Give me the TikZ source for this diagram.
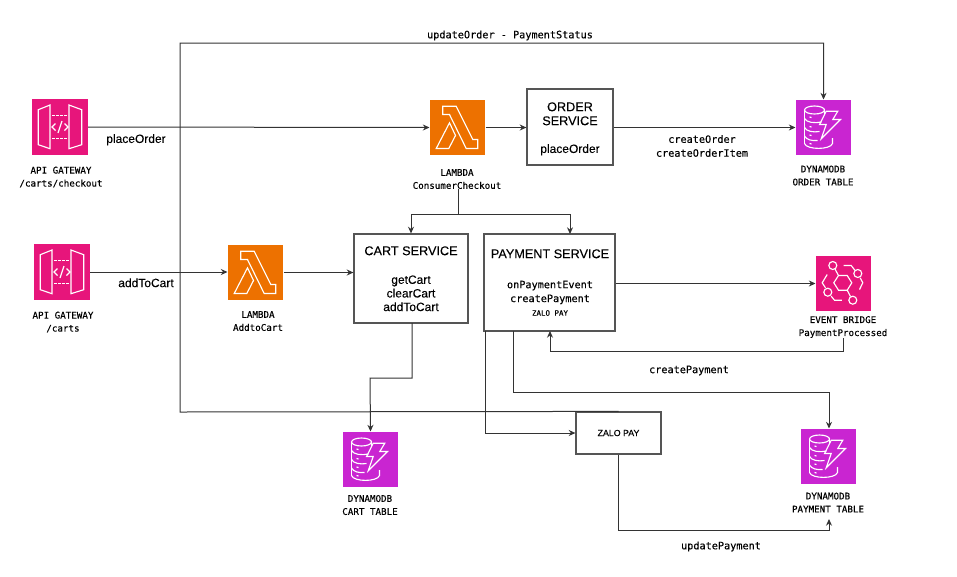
\documentclass[tikz,border=0pt]{standalone}
\usepackage{fontspec}
\setmainfont[FakeBold=0.15]{Liberation Sans}
\newfontfamily\monof[FakeBold=0.25]{DejaVu Sans Mono}
\usetikzlibrary{arrows.meta,calc}
\definecolor{awspink}{HTML}{E7157B}
\definecolor{awsorange}{HTML}{ED7100}
\definecolor{awspurple}{HTML}{C925D1}
\definecolor{linec}{HTML}{333333}
\definecolor{boxc}{HTML}{555555}
\tikzset{
  icon/.style={draw=none,minimum size=41.6pt,inner sep=0pt,fill=#1},
  glyph/.style={draw=white,line width=0.85pt,line join=miter},
  conn/.style={draw=linec,line width=0.75pt,-{Stealth[length=5pt,width=4.5pt]}},
  plainconn/.style={draw=linec,line width=0.75pt},
  svcbox/.style={draw=boxc,line width=0.9pt,fill=white,inner sep=0pt},
  mlabel/.style={font=\monof\fontsize{6.9pt}{9.75pt}\selectfont,align=center,inner sep=0pt,text=black,yshift=-0.4pt},
  mtext/.style={font=\monof\fontsize{7.65pt}{10.4pt}\selectfont,align=center,inner sep=0pt,text=black,yshift=-1.1pt},
  stext/.style={font=\fontsize{9pt}{10.2pt}\selectfont,align=center,inner sep=0pt,text=black,yshift=-0.6pt},
  htext/.style={font=\fontsize{9.5pt}{10.5pt}\selectfont,align=center,inner sep=0pt,text=black,yshift=-0.6pt},
}
\newcommand{\glyphApi}{%
  \draw[glyph] (6.3,10.7)--(18,6)--(18,49.7)--(6.3,45.7)--cycle;
  \draw[glyph] (37,6)--(49.7,10.7)--(49.7,45.7)--(37,49.7)--cycle;
  \draw[glyph,dash pattern=on 2pt off 1pt] (20,16.7)--(36,16.7);
  \draw[glyph,dash pattern=on 2pt off 1pt] (20,39.3)--(36,39.3);
  \draw[glyph] (23.5,24.5)--(20,28)--(23.5,31.5);
  \draw[glyph] (32.5,24.5)--(36,28)--(32.5,31.5);
  \draw[glyph] (30,22)--(26,34);
}
\newcommand{\glyphLambda}{%
  \draw[glyph] (13.3,6.7)--(26.7,6.7)--(43.3,40)--(48.3,40)--(48.3,49)--(36.7,49)--(20,15)--(13.3,15)--cycle;
  \draw[glyph] (20,23.3)--(26,36)--(19.3,49)--(6.7,49)--cycle;
}
\newcommand{\glyphDynamo}{%
  \draw[glyph] (19,10.5) ellipse [x radius=10,y radius=4];
  \draw[glyph] (9,10.5)--(9,44);
  \draw[glyph] (29,10.5)--(29,14);
  \draw[glyph] (9,19) .. controls (11,23) and (19,24) .. (26,22.5);
  \draw[glyph] (9,28) .. controls (11,32) and (18,33) .. (24,32);
  \draw[glyph] (9,36.5) .. controls (11,40.5) and (17,41.5) .. (22,41);
  \draw[glyph] (9,44) .. controls (11,50.5) and (35,50.5) .. (37,44)--(37,38.5);
  \draw[glyph] (14,17.5)--(16,18);
  \draw[glyph] (14,27)--(16,27.5);
  \draw[glyph] (14,35.5)--(16,36);
  \draw[glyph] (14,44)--(16,44.5);
  \draw[glyph] (30.7,11.7)--(42.3,11.7)--(37.3,20)--(45,20)--(25.7,39.3)--(30.7,25)--(24,25)--cycle;
}
\newcommand{\glyphBridge}{%
  \draw[glyph] (18.3,27.3)--(23,20)--(31.7,20)--(36.3,27.3)--(31.7,34.7)--(23,34.7)--cycle;
  \draw[glyph] (17.3,10) circle [radius=4];
  \draw[glyph] (42.3,18) circle [radius=4];
  \draw[glyph] (12.3,36.7) circle [radius=4];
  \draw[glyph] (37.3,44.7) circle [radius=4];
  \draw[glyph] (19.5,13.5)--(23,20);
  \draw[glyph] (31.7,34.7)--(35,41);
  \draw[glyph] (28,10)--(35.7,10)--(39.3,14.7);
  \draw[glyph] (44.7,22.3)--(47.3,27.3)--(44,34);
  \draw[glyph] (11.7,19)--(6.7,27.3)--(10,32.3);
  \draw[glyph] (15.7,40.7)--(19,44.7)--(26.3,44.7);
}
\begin{document}
\begin{tikzpicture}[x=0.75pt,y=-0.75pt]
\useasboundingbox (0,0) rectangle (957,576);
% icons
\node[icon=awspink] (api1) at (60,127) {};
\begin{scope}[shift={(api1.north west)}]\glyphApi\end{scope}
\node[icon=awspink] (api2) at (62,272) {};
\begin{scope}[shift={(api2.north west)}]\glyphApi\end{scope}
\node[icon=awsorange] (lam2) at (255.5,272.5) {};
\begin{scope}[shift={(lam2.north west)}]\glyphLambda\end{scope}
\node[icon=awsorange] (lam1) at (457.5,127.5) {};
\begin{scope}[shift={(lam1.north west)}]\glyphLambda\end{scope}
\node[icon=awspurple] (dynO) at (823.5,127.5) {};
\begin{scope}[shift={(dynO.north west)}]\glyphDynamo\end{scope}
\node[icon=awspurple] (dynC) at (370.5,459.5) {};
\begin{scope}[shift={(dynC.north west)}]\glyphDynamo\end{scope}
\node[icon=awspurple] (dynP) at (828.5,456.5) {};
\begin{scope}[shift={(dynP.north west)}]\glyphDynamo\end{scope}
\node[icon=awspink] (bridge) at (843.5,283.5) {};
\begin{scope}[shift={(bridge.north west)}]\glyphBridge\end{scope}
% icon captions
\node[mlabel] (lApi1) at (61,176.5) {API GATEWAY\\/carts/checkout};
\node[mlabel] (lApi2) at (63,321.5) {API GATEWAY\\/carts};
\node[mlabel] (lLam2) at (258,320.5) {LAMBDA\\AddtoCart};
\node[mlabel] (lLam1) at (457,178.5) {LAMBDA\\ConsumerCheckout};
\node[mlabel] (lDynO) at (823,175) {DYNAMODB\\ORDER TABLE};
\node[mlabel] (lBridge) at (843,326.5) {EVENT BRIDGE\\PaymentProcessed};
\node[mlabel] (lDynC) at (370,504.5) {DYNAMODB\\CART TABLE};
\node[mlabel] (lDynP) at (828,502) {DYNAMODB\\PAYMENT TABLE};
% boxes
\node[svcbox,minimum width=64.5pt,minimum height=57pt] (order) at (570,127) {};
\node[svcbox,minimum width=85.5pt,minimum height=66.75pt] (cart) at (411,278.5) {};
\node[svcbox,minimum width=98.25pt,minimum height=72.75pt] (pay) at (549.5,282.5) {};
\node[svcbox,minimum width=63.75pt,minimum height=31.5pt,font=\fontsize{6.6pt}{8pt}\selectfont] (zalo) at (618.5,433) {ZALO PAY};
% box texts
\node[htext] (tOrder) at (570,113) {ORDER\\SERVICE};
\node[stext] (tOrderM) at (570,149) {placeOrder};
\node[htext] (tCart) at (411,250) {CART SERVICE};
\node[stext] (tCartM) at (411,292.5) {getCart\\clearCart\\addToCart};
\node[htext] (tPay) at (550,253) {PAYMENT SERVICE};
\node[mtext] (tPayM) at (550,291) {onPaymentEvent\\createPayment};
\node[font=\monof\fontsize{5.6pt}{7pt}\selectfont,inner sep=0pt] (tPayZ) at (550,313) {ZALO PAY};
% connector labels
\node[mtext] (eUpd) at (510,34) {updateOrder - PaymentStatus};
\node[stext] (ePlace) at (136,139) {placeOrder};
\node[stext] (eAdd) at (146,282) {addToCart};
\node[mtext] (eCreate) at (702,144.5) {createOrder\\createOrderItem};
\node[mtext] (eCreateP) at (689,369) {createPayment};
\node[mtext] (eUpdP) at (721,545) {updatePayment};
% way-points
\coordinate (wUpdA) at (180,412);
\coordinate (wUpdB) at (180,43);
\coordinate (wSplit) at (458,214);
\coordinate (wCartA) at (412,323);
\coordinate (wPayA) at (513,331);
\coordinate (wPayB) at (485,331);
\coordinate (wPayIn) at (550,331);
\coordinate (wCartOut) at (370,378);
% connectors
\draw[conn] (api1.east) -- (lam1.west);
\draw[conn] (lam1.east) -- (lam1.east -| order.west);
\draw[conn] (order.east |- dynO.west) -- (dynO.west);
\draw[conn] (api2.east) -- (api2.east -| lam2.west);
\draw[conn] (lam2.east) -- (lam2.east -| cart.west);
\draw[plainconn] (lLam1.south -| wSplit) -- (wSplit);
\draw[conn] (wSplit) -| (cart.north);
\draw[conn] (wSplit) -| (570,234);
\draw[conn] (pay.east |- bridge.west) -- (bridge.west);
\draw[conn] (lBridge.south) |- (wPayIn |- 0,351) -- (wPayIn);
\draw[conn] (wPayA) |- (829,392) -- (dynP.north -| 829,0);
\draw[conn] (wPayB) |- (zalo.west |- 0,433);
\draw[conn] (wCartA) |- (wCartOut) -- (dynC.north);
\draw[conn] (zalo.south) |- (829,530) -- (829,519);
\draw[conn] (zalo.north) -- (wUpdA) -- (wUpdB) -| (dynO.north);
\end{tikzpicture}
\end{document}
